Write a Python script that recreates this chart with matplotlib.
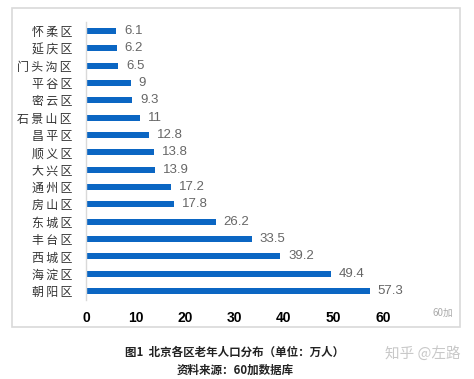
import matplotlib.pyplot as plt
from matplotlib.patches import Rectangle

plt.rcParams['font.family'] = ['Noto Sans CJK SC', 'DejaVu Sans']

districts = ['怀柔区', '延庆区', '门头沟区', '平谷区', '密云区', '石景山区', '昌平区', '顺义区',
             '大兴区', '通州区', '房山区', '东城区', '丰台区', '西城区', '海淀区', '朝阳区']
values = [6.1, 6.2, 6.5, 9, 9.3, 11, 12.8, 13.8, 13.9, 17.2, 17.8, 26.2, 33.5, 39.2, 49.4, 57.3]
value_labels = ['6.1', '6.2', '6.5', '9', '9.3', '11', '12.8', '13.8', '13.9', '17.2', '17.8',
                '26.2', '33.5', '39.2', '49.4', '57.3']
xticks = [0, 10, 20, 30, 40, 50, 60]

fig = plt.figure(figsize=(4.74, 3.79), dpi=100)
fig.patch.set_facecolor('white')

# chart frame
fig.patches.append(Rectangle((12 / 474, 1 - 327 / 379), 448 / 474, 319 / 379,
                             transform=fig.transFigure, fill=False,
                             edgecolor='#d9d9d9', linewidth=1.2))

ax = fig.add_axes([86 / 474, 0.2092, (383 - 86) / 474, 0.732])
pos = list(range(len(districts)))
ax.barh(pos, values, height=0.36, color='#0b66c3')
ax.set_ylim(len(districts) - 0.5, -0.5)
ax.set_xlim(0, 60)
ax.set_yticks(pos)
# spread the characters a little, like the original labels
ax.set_yticklabels(['\u2009'.join(d) for d in districts], fontsize=8.6, color='#333333')
ax.set_xticks(xticks)
ax.set_xticklabels([str(t) for t in xticks], fontsize=10, fontweight='bold',
                   family=['Liberation Sans', 'DejaVu Sans'])
ax.tick_params(axis='y', length=0, pad=10)
ax.tick_params(axis='x', length=0, pad=8)
for s in ['top', 'right', 'bottom']:
    ax.spines[s].set_visible(False)
ax.spines['left'].set_color('#d9d9d9')
ax.spines['left'].set_linewidth(1)

for p, v, lab in zip(pos, values, value_labels):
    ax.text(v + 1.6, p, lab, va='center', ha='left', fontsize=9.5, color='#666666',
            family=['Liberation Sans', 'DejaVu Sans'], clip_on=False)

fig.text(443 / 474, 1 - 313 / 379, '60加', fontsize=7, color='#aaaaaa', ha='center', va='center')

fig.text(235 / 474, 1 - 352 / 379, '图1  北京各区老年人口分布（单位：万人）', fontsize=8.3,
         fontweight='bold', ha='center', va='center', color='#222222')
fig.text(235 / 474, 1 - 370 / 379, '资料来源：60加数据库', fontsize=8.3,
         fontweight='bold', ha='center', va='center', color='#222222')
fig.text(423 / 474, 1 - 353 / 379, '知乎 @左路', fontsize=10.5, ha='center', va='center',
         color='#c8c8c8')

fig.savefig('out.png', dpi=100)
